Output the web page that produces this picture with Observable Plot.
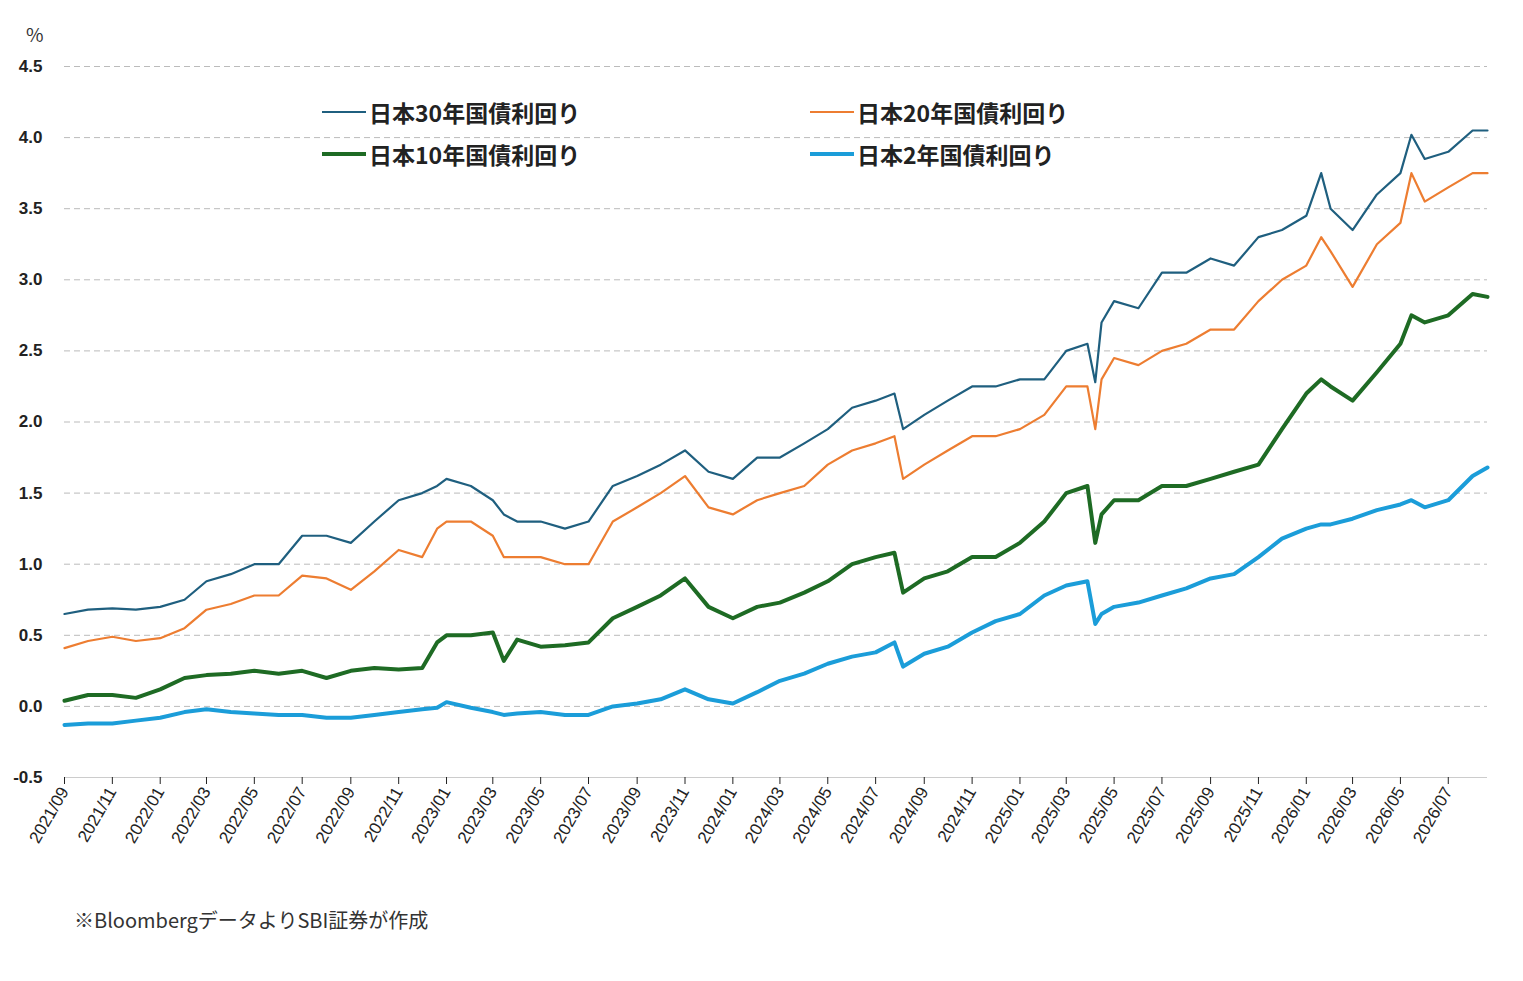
<!DOCTYPE html>
<html><head><meta charset="utf-8">
<script src="https://cdn.jsdelivr.net/npm/d3@7"></script>
<script src="https://cdn.jsdelivr.net/npm/@observablehq/plot@0.6"></script>
<style>
body{margin:0;background:#fff;font-family:"Noto Sans CJK JP","Noto Sans",sans-serif;}
#wrap{position:relative;width:1523px;height:981px;}
.leg{position:absolute;font-size:23px;font-weight:bold;color:#222;display:flex;align-items:center;}
.leg span.l{display:inline-block;width:44px;margin-right:3px;}
#unit{position:absolute;left:26px;top:20px;font-size:19px;color:#333;}
#cap{position:absolute;left:74px;top:905px;font-size:20px;color:#333;}
</style></head><body>
<div id="wrap">
<div id="unit">%</div>
<div id="chart"></div>
<div class="leg" style="left:322px;top:95px"><span class="l" style="border-top:2.5px solid #1f5f7f"></span>日本30年国債利回り</div>
<div class="leg" style="left:810px;top:95px"><span class="l" style="border-top:2.5px solid #ed7d31"></span>日本20年国債利回り</div>
<div class="leg" style="left:322px;top:137px"><span class="l" style="border-top:4.5px solid #1e6b24"></span>日本10年国債利回り</div>
<div class="leg" style="left:810px;top:137px"><span class="l" style="border-top:4.5px solid #1b9dd9"></span>日本2年国債利回り</div>
<div id="cap">※BloombergデータよりSBI証券が作成</div>
</div>
<script>
const dates = ["2021-09-01","2021-10-01","2021-11-01","2021-12-01","2022-01-01","2022-02-01","2022-03-01","2022-04-01","2022-05-01","2022-06-01","2022-07-01","2022-08-01","2022-09-01","2022-10-01","2022-11-01","2022-12-01","2022-12-20","2023-01-01","2023-02-01","2023-03-01","2023-03-15","2023-04-01","2023-05-01","2023-06-01","2023-07-01","2023-08-01","2023-09-01","2023-10-01","2023-11-01","2023-12-01","2024-01-01","2024-02-01","2024-03-01","2024-04-01","2024-05-01","2024-06-01","2024-07-01","2024-07-25","2024-08-05","2024-09-01","2024-10-01","2024-11-01","2024-12-01","2025-01-01","2025-02-01","2025-03-01","2025-03-28","2025-04-07","2025-04-15","2025-05-01","2025-06-01","2025-07-01","2025-08-01","2025-09-01","2025-10-01","2025-11-01","2025-12-01","2026-01-01","2026-01-20","2026-02-01","2026-03-01","2026-04-01","2026-05-01","2026-05-15","2026-06-01","2026-07-01","2026-08-01","2026-08-20"];
const y30 = [0.65,0.68,0.69,0.68,0.70,0.75,0.88,0.93,1.00,1.00,1.20,1.20,1.15,1.30,1.45,1.50,1.55,1.60,1.55,1.45,1.35,1.30,1.30,1.25,1.30,1.55,1.62,1.70,1.80,1.65,1.60,1.75,1.75,1.85,1.95,2.10,2.15,2.20,1.95,2.05,2.15,2.25,2.25,2.30,2.30,2.50,2.55,2.28,2.70,2.85,2.80,3.05,3.05,3.15,3.10,3.30,3.35,3.45,3.75,3.50,3.35,3.60,3.75,4.02,3.85,3.90,4.05,4.05];
const y20 = [0.41,0.46,0.49,0.46,0.48,0.55,0.68,0.72,0.78,0.78,0.92,0.90,0.82,0.95,1.10,1.05,1.25,1.30,1.30,1.20,1.05,1.05,1.05,1.00,1.00,1.30,1.40,1.50,1.62,1.40,1.35,1.45,1.50,1.55,1.70,1.80,1.85,1.90,1.60,1.70,1.80,1.90,1.90,1.95,2.05,2.25,2.25,1.95,2.30,2.45,2.40,2.50,2.55,2.65,2.65,2.85,3.00,3.10,3.30,3.20,2.95,3.25,3.40,3.75,3.55,3.65,3.75,3.75];
const y10 = [0.04,0.08,0.08,0.06,0.12,0.20,0.22,0.23,0.25,0.23,0.25,0.20,0.25,0.27,0.26,0.27,0.45,0.50,0.50,0.52,0.32,0.47,0.42,0.43,0.45,0.62,0.70,0.78,0.90,0.70,0.62,0.70,0.73,0.80,0.88,1.00,1.05,1.08,0.80,0.90,0.95,1.05,1.05,1.15,1.30,1.50,1.55,1.15,1.35,1.45,1.45,1.55,1.55,1.60,1.65,1.70,1.95,2.20,2.30,2.25,2.15,2.35,2.55,2.75,2.70,2.75,2.90,2.88];
const y2 = [-0.13,-0.12,-0.12,-0.10,-0.08,-0.04,-0.02,-0.04,-0.05,-0.06,-0.06,-0.08,-0.08,-0.06,-0.04,-0.02,-0.01,0.03,-0.01,-0.04,-0.06,-0.05,-0.04,-0.06,-0.06,0.00,0.02,0.05,0.12,0.05,0.02,0.10,0.18,0.23,0.30,0.35,0.38,0.45,0.28,0.37,0.42,0.52,0.60,0.65,0.78,0.85,0.88,0.58,0.65,0.70,0.73,0.78,0.83,0.90,0.93,1.05,1.18,1.25,1.28,1.28,1.32,1.38,1.42,1.45,1.40,1.45,1.62,1.68];
const yTicks = [-0.5,0,0.5,1,1.5,2,2.5,3,3.5,4,4.5];
const series = [
  {name:"日本30年国債利回り", vals:y30, color:"#1f5f7f", w:2.2},
  {name:"日本20年国債利回り", vals:y20, color:"#ed7d31", w:2.2},
  {name:"日本10年国債利回り", vals:y10, color:"#1e6b24", w:4},
  {name:"日本2年国債利回り", vals:y2, color:"#1b9dd9", w:4}
];
const parse = d3.utcParse("%Y-%m-%d");
const xTicks = d3.utcMonth.every(2).range(parse("2021-09-01"), parse("2026-08-02"));
const marks = [
  Plot.gridY(yTicks,{stroke:"#bbb",strokeOpacity:1,strokeDasharray:"6,4"}),
  Plot.ruleY([-0.5],{stroke:"#ccc"}),
  Plot.axisY({ticks:yTicks,tickSize:0,tickFormat:d=>d.toFixed(1),fontWeight:"bold",fontSize:17,label:null,tickPadding:22}),
  Plot.axisX({ticks:xTicks,tickFormat:d3.utcFormat("%Y/%m"),tickRotate:-60,fontSize:17,label:null,tickSize:7,tickPadding:4})
];
for (const s of series) {
  const data = dates.map((d,i)=>({date:parse(d), v:s.vals[i]}));
  marks.push(Plot.lineY(data,{x:"date",y:"v",stroke:s.color,strokeWidth:s.w,curve:"linear"}));
}
const chart = Plot.plot({
  width:1523, height:880,
  marginLeft:64, marginRight:36, marginTop:66, marginBottom:103,
  x:{type:"utc",domain:[parse("2021-09-01"),parse("2026-08-20")]},
  y:{domain:[-0.5,4.5]},
  style:{fontFamily:"Liberation Sans, Noto Sans, sans-serif",color:"#222",background:"#fff"},
  marks
});
document.getElementById("chart").appendChild(chart);
</script>
</body></html>
